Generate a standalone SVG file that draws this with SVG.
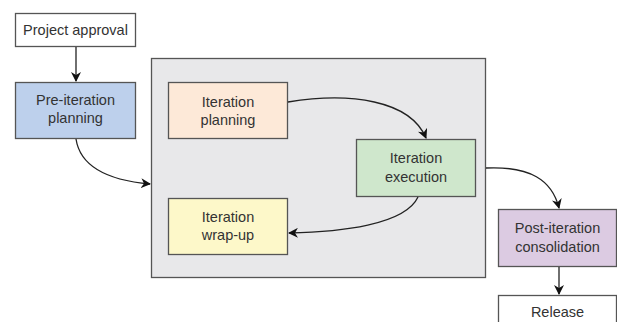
<svg xmlns="http://www.w3.org/2000/svg" width="617" height="322" viewBox="0 0 617 322">
<style>
.box{stroke:#555;stroke-width:1.3}
.t{font-family:"Liberation Sans",Arial,sans-serif;font-size:14.5px;fill:#333;text-anchor:middle}
.c{fill:none;stroke:#222;stroke-width:1.3}
</style>
<defs>
<marker id="ah" viewBox="0 0 10 10" refX="9" refY="5" markerWidth="10" markerHeight="10" markerUnits="userSpaceOnUse" orient="auto">
<path d="M0,0 L10,5 L0,10 L3,5 Z" fill="#111"/>
</marker>
</defs>
<rect width="617" height="322" fill="#fff"/>
<g id="container"><rect class="box" x="151.5" y="58.5" width="334" height="219" fill="#e8e8ea"/></g>
<g id="project-approval"><rect class="box" x="15.5" y="13.5" width="120" height="33" fill="#fff"/><text class="t" x="75.5" y="35">Project approval</text></g>
<g id="pre-iteration"><rect class="box" x="15.5" y="82.5" width="120" height="56" fill="#bdd0ec"/><text class="t" x="75.5" y="105">Pre-iteration</text><text class="t" x="75.5" y="123">planning</text></g>
<g id="iteration-planning"><rect class="box" x="168.5" y="82.5" width="119" height="56" fill="#fde9d8"/><text class="t" x="228" y="107">Iteration</text><text class="t" x="228" y="125">planning</text></g>
<g id="iteration-execution"><rect class="box" x="356.5" y="139.5" width="119" height="57" fill="#cfe7cc"/><text class="t" x="416" y="163">Iteration</text><text class="t" x="416" y="182">execution</text></g>
<g id="iteration-wrapup"><rect class="box" x="168.5" y="198.5" width="119" height="56" fill="#fdf8c9"/><text class="t" x="228" y="222">Iteration</text><text class="t" x="228" y="240">wrap-up</text></g>
<g id="post-iteration"><rect class="box" x="498.5" y="209.5" width="118" height="57" fill="#dccbe2"/><text class="t" x="557.5" y="233">Post-iteration</text><text class="t" x="557.5" y="252">consolidation</text></g>
<g id="release"><rect class="box" x="498.5" y="295.5" width="118" height="40" fill="#fff"/><text class="t" x="557.5" y="317">Release</text></g>
<g id="connectors">
<path class="c" marker-end="url(#ah)" d="M76,47 L76,81"/>
<path class="c" marker-end="url(#ah)" d="M76,139 C80,165 105,180 150,184"/>
<path class="c" marker-end="url(#ah)" d="M288,102 C350,92 410,100 426,138"/>
<path class="c" marker-end="url(#ah)" d="M418,197 C405,225 340,232 289,233"/>
<path class="c" marker-end="url(#ah)" d="M486,168 C530,166 552,180 559,208"/>
<path class="c" marker-end="url(#ah)" d="M559,267 L559,294"/>
</g>
</svg>
